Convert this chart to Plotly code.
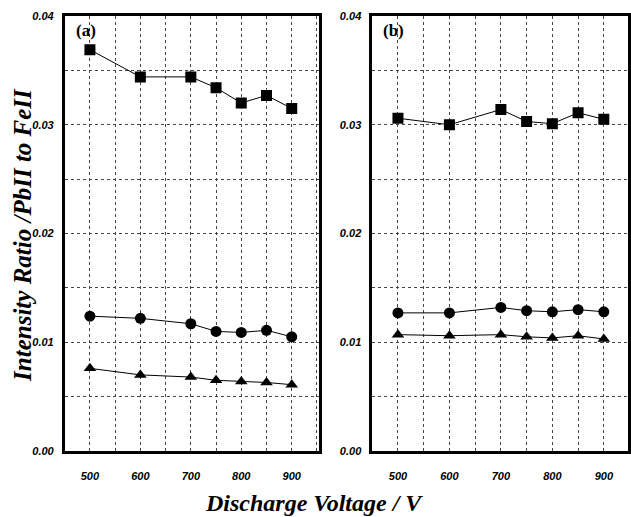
import plotly.graph_objects as go
from plotly.subplots import make_subplots

voltage = [500, 600, 700, 750, 800, 850, 900]

a_square = [0.0369, 0.0344, 0.0344, 0.0334, 0.0320, 0.0327, 0.0315]
a_circle = [0.0124, 0.0122, 0.0117, 0.0110, 0.0109, 0.0111, 0.0105]
a_triangle = [0.0076, 0.0070, 0.0068, 0.0065, 0.0064, 0.0063, 0.0061]

b_square = [0.0306, 0.0300, 0.0314, 0.0303, 0.0301, 0.0311, 0.0305]
b_circle = [0.0127, 0.0127, 0.0132, 0.0129, 0.0128, 0.0130, 0.0128]
b_triangle = [0.0107, 0.0106, 0.0107, 0.0105, 0.0104, 0.0106, 0.0103]

panel_labels = ["(a)", "(b)"]
x_title = "Discharge Voltage / V"
y_title = "Intensity Ratio /PbII to FeII"

W, H = 631, 517
fig = make_subplots(rows=1, cols=2)

series = [
    (a_square, "square", 11, 1), (a_circle, "circle", 11, 1), (a_triangle, "triangle-up", 11, 1),
    (b_square, "square", 11, 2), (b_circle, "circle", 11, 2), (b_triangle, "triangle-up", 11, 2),
]
for vals, sym, sz, col in series:
    fig.add_trace(go.Scatter(
        x=voltage, y=vals, mode="lines+markers",
        line=dict(color="black", width=1),
        marker=dict(symbol=sym, size=sz, color="black"),
        showlegend=False), row=1, col=col)

tickfont = dict(family="Liberation Sans, Arial", size=11, color="black", weight="bold", style="italic")
grid = dict(showgrid=True, gridcolor="#444", griddash="dot", gridwidth=1)

xdoms = [[65 / W, 321 / W], [374 / W, 1.0]]
xranges = [[450, 955], [450, 947]]
for i in range(2):
    sfx = "" if i == 0 else "2"
    fig.layout["xaxis" + sfx].update(
        domain=xdoms[i], range=xranges[i], tick0=500, dtick=100,
        showline=True, linecolor="black", linewidth=2.5, mirror=True,
        ticks="", ticklabelstandoff=13, tickfont=tickfont, zeroline=False,
        minor=dict(tick0=450, dtick=50, showgrid=True, gridcolor="#444", griddash="dot", gridwidth=1),
        **grid)
    fig.layout["yaxis" + sfx].update(
        domain=[0, 1], range=[0, 0.04], tick0=0, dtick=0.01, tickformat=".2f",
        showline=True, linecolor="black", linewidth=2.5, mirror=True,
        ticks="", ticklabelstandoff=6, tickfont=tickfont, zeroline=False,
        minor=dict(tick0=0, dtick=0.005, showgrid=True, gridcolor="#444", griddash="dot", gridwidth=1),
        **grid)

xtitlefont = dict(family="Liberation Serif, Times New Roman", size=24, color="black", weight="bold", style="italic")
ytitlefont = dict(family="Liberation Serif, Times New Roman", size=25, color="black", weight="bold", style="italic")
ph = H - 82
annotations = [
    dict(text=x_title, x=315 / W, y=-(503 - 451) / ph, xref="paper", yref="paper",
         showarrow=False, font=xtitlefont, xanchor="center", yanchor="middle"),
    dict(text=y_title, x=22 / W, y=(451 - 235) / ph, xref="paper", yref="paper",
         showarrow=False, font=ytitlefont, textangle=-90, xanchor="center", yanchor="middle"),
]
lab_font = dict(family="Liberation Serif, Times New Roman", size=17, color="black", weight="bold")
for lab, xp in zip(panel_labels, [86, 395]):
    annotations.append(dict(text=lab, x=xp / W, y=(451 - 31) / ph, xref="paper", yref="paper",
                            showarrow=False, font=lab_font, xanchor="center", yanchor="middle"))

fig.update_layout(
    width=W, height=H, margin=dict(l=0, r=0, t=16, b=66),
    paper_bgcolor="white", plot_bgcolor="white",
    annotations=annotations,
)
fig.write_html("out.html")
